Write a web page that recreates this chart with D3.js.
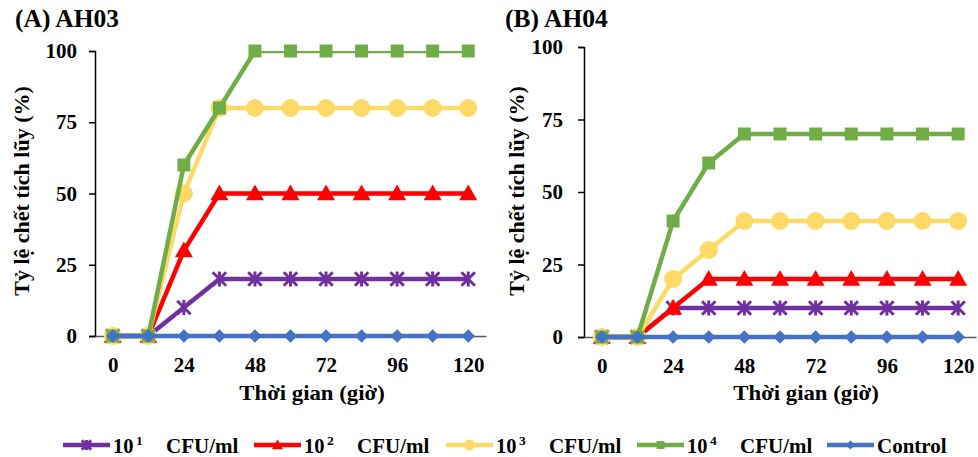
<!DOCTYPE html>
<html lang="vi">
<head>
    <meta charset="UTF-8">
    <title>Tỷ lệ chết tích lũy</title>
    <script src="https://d3js.org/d3.v7.min.js"></script>
    <style>
        body { margin: 0; background: #fff; }
        text { font-family: "Liberation Serif", "Times New Roman", serif; font-weight: bold; fill: #000; }
    </style>
</head>
<body>
    <div id="chart"></div>

    <script>
        // time points (hours) and axis labels
        const hours = [0, 12, 24, 36, 48, 60, 72, 84, 96, 108, 120];
        const xTickLabels = [0, 24, 48, 72, 96, 120];
        const yTickLabels = [0, 25, 50, 75, 100];

        const seriesNames = ["10^1", "10^2", "10^3", "10^4", "Control"];

        // panel A, AH03
        const ah03_e1 = [0, 0, 10, 20, 20, 20, 20, 20, 20, 20, 20];
        const ah03_e2 = [0, 0, 30, 50, 50, 50, 50, 50, 50, 50, 50];
        const ah03_e3 = [0, 0, 50, 80, 80, 80, 80, 80, 80, 80, 80];
        const ah03_e4 = [0, 0, 60, 80, 100, 100, 100, 100, 100, 100, 100];
        const ah03_ctrl = [0, 0, 0, 0, 0, 0, 0, 0, 0, 0, 0];

        // panel B, AH04
        const ah04_e1 = [0, 0, 10, 10, 10, 10, 10, 10, 10, 10, 10];
        const ah04_e2 = [0, 0, 10, 20, 20, 20, 20, 20, 20, 20, 20];
        const ah04_e3 = [0, 0, 20, 30, 40, 40, 40, 40, 40, 40, 40];
        const ah04_e4 = [0, 0, 40, 60, 70, 70, 70, 70, 70, 70, 70];
        const ah04_ctrl = [0, 0, 0, 0, 0, 0, 0, 0, 0, 0, 0];

        const colors = ["#7030A0", "#FF0000", "#FFD966", "#70AD47", "#4472C4"];
        const markers = ["star", "triangle", "circle", "square", "diamond"];

        const svg = d3.select("#chart").append("svg")
            .attr("width", 978)
            .attr("height", 457);

        // draws one marker shape centred on 0,0
        function drawMarker(g, type, color, s) {
            if (type === "square") {
                g.append("rect").attr("x", -s * 0.36).attr("y", -s * 0.36)
                 .attr("width", s * 0.72).attr("height", s * 0.72).attr("fill", color);
            } else if (type === "circle") {
                g.append("circle").attr("r", s * 0.5).attr("fill", color);
            } else if (type === "triangle") {
                const h = s * 0.5;
                g.append("path").attr("d", `M0,${-h}L${h},${h * 0.75}L${-h},${h * 0.75}Z`).attr("fill", color);
            } else if (type === "diamond") {
                const h = s * 0.42;
                g.append("path").attr("d", `M0,${-h}L${h},0L0,${h}L${-h},0Z`).attr("fill", color);
            } else if (type === "star") {
                const h = s * 0.42;
                g.append("path")
                 .attr("d", `M${-h},${-h}L${h},${h}M${h},${-h}L${-h},${h}M0,${-h * 1.1}L0,${h * 1.1}`)
                 .attr("stroke", color).attr("stroke-width", 3).attr("fill", "none");
            }
        }

        function panel(opts) {
            const x = d3.scaleLinear().domain([-6, 126]).range(opts.xr);
            const y = d3.scaleLinear().domain([0, 100]).range(opts.yr);
            const g = svg.append("g");

            // panel title
            g.append("text").attr("x", opts.titleX).attr("y", 27)
             .style("font-size", "25.5px").text(opts.title);

            // y axis
            const yAxis = g.append("g")
                .attr("transform", `translate(${opts.xr[0]},0)`)
                .call(d3.axisLeft(y).tickValues(yTickLabels).tickSize(6).tickPadding(opts.yPad));
            yAxis.select(".domain").attr("stroke", "#000").attr("stroke-width", 1.5);
            yAxis.selectAll(".tick line").attr("stroke", "#000").attr("stroke-width", 1.5);
            yAxis.selectAll(".tick text").style("font-size", "21px")
                 .style("font-family", "Liberation Serif").style("font-weight", "bold").attr("fill", "#000");

            // x axis
            const xAxis = g.append("g")
                .attr("transform", `translate(0,${opts.yr[0]})`)
                .call(d3.axisBottom(x).tickValues(xTickLabels).tickSize(0).tickPadding(21));
            xAxis.select(".domain").attr("stroke", "#595959").attr("stroke-width", 1.5);
            xAxis.selectAll(".tick text").style("font-size", "21px")
                 .style("font-family", "Liberation Serif").style("font-weight", "bold").attr("fill", "#000");

            // axis titles
            g.append("text")
             .attr("transform", `translate(${opts.xTitleX},400) scale(1.06,1)`)
             .attr("text-anchor", "middle").style("font-size", "21.5px").text("Thời gian (giờ)");
            g.append("text")
             .attr("transform", `translate(${opts.yTitleX},191) rotate(-90)`)
             .attr("text-anchor", "middle").style("font-size", "22px").text("Tỷ lệ chết tích lũy (%)");

            // clip lines at the top of the plot area like the original
            const clipId = "clip" + opts.title.replace(/\W/g, "");
            svg.append("clipPath").attr("id", clipId).append("rect")
               .attr("x", opts.xr[0]).attr("y", opts.yr[1])
               .attr("width", opts.xr[1] - opts.xr[0]).attr("height", opts.yr[0] - opts.yr[1] + 20);

            const line = d3.line().x((d, i) => x(hours[i])).y(d => y(d));

            opts.series.forEach((vals, si) => {
                g.append("path").datum(vals)
                 .attr("clip-path", `url(#${clipId})`)
                 .attr("fill", "none")
                 .attr("stroke", colors[si])
                 .attr("stroke-width", 4.5)
                 .attr("stroke-linejoin", "round")
                 .attr("d", line);
                const sizes = [16, 18, 18, 18, 16];
                vals.forEach((v, i) => {
                    const m = g.append("g").attr("transform", `translate(${x(hours[i])},${y(v)})`);
                    drawMarker(m, markers[si], colors[si], sizes[si]);
                });
            });
        }

        panel({
            title: "(A) AH03", titleX: 15,
            xr: [95, 486], yr: [336, 51], yPad: 12, yTitleX: 29, xTitleX: 312,
            series: [ah03_e1, ah03_e2, ah03_e3, ah03_e4, ah03_ctrl]
        });
        panel({
            title: "(B) AH04", titleX: 505,
            xr: [584, 976], yr: [337, 47], yPad: 15, yTitleX: 524, xTitleX: 806,
            series: [ah04_e1, ah04_e2, ah04_e3, ah04_e4, ah04_ctrl]
        });

        // legend along the bottom
        const legend = svg.append("g");
        const legendX = [63, 254, 446, 637, 827];
        const supers = ["1", "2", "3", "4"];
        seriesNames.forEach((name, i) => {
            const lg = legend.append("g").attr("transform", `translate(${legendX[i]},445)`);
            lg.append("line").attr("x1", 0).attr("x2", 47)
              .attr("stroke", colors[i]).attr("stroke-width", 4.5);
            const m = lg.append("g").attr("transform", "translate(23.5,0)");
            drawMarker(m, markers[i], colors[i], 11);
            if (i < 4) {
                lg.append("text").attr("x", 50).attr("y", 8).style("font-size", "20.5px").text("10");
                lg.append("text").attr("x", 73).attr("y", 0).style("font-size", "13.5px").text(supers[i]);
                lg.append("text").attr("x", 103).attr("y", 8).style("font-size", "21px").text("CFU/ml");
            } else {
                lg.append("text").attr("x", 50).attr("y", 8).style("font-size", "21px").text("Control");
            }
        });
    </script>
</body>
</html>
